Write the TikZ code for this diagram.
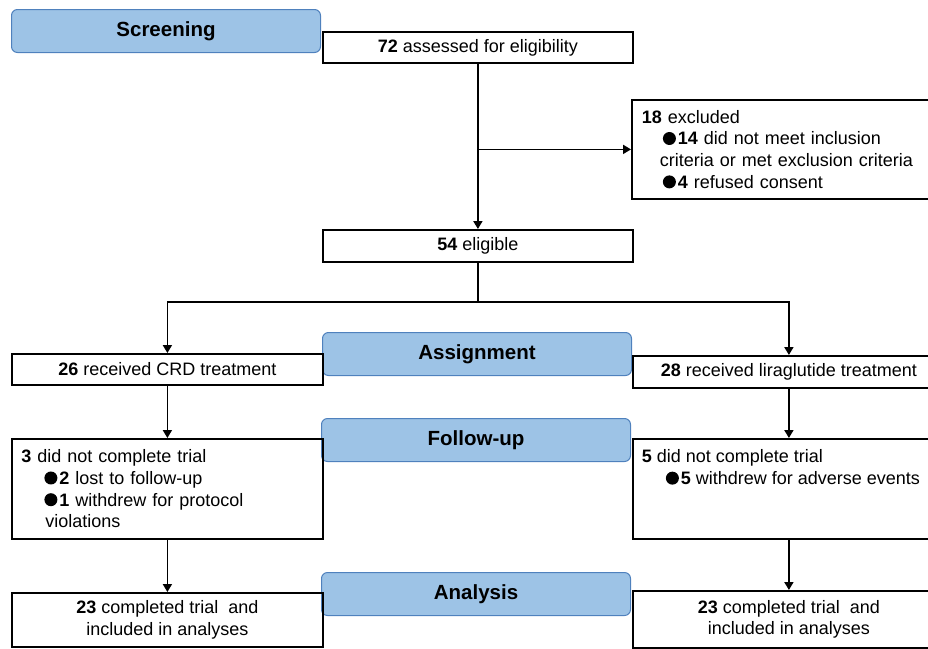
\documentclass[tikz,border=0pt]{standalone}
\usepackage{fontspec}
\setmainfont{Liberation Sans}
\usetikzlibrary{arrows.meta}
\definecolor{stagefill}{HTML}{9DC3E6}
\definecolor{stageedge}{HTML}{4F81BD}
\newcommand{\bulletmark}{\tikz[baseline=-6.5pt]\fill (0,0) circle (6.5pt);\hspace{2pt}}

\begin{document}
\begin{tikzpicture}[x=1pt,y=-1pt,
  stage/.style={draw=stageedge,fill=stagefill,rounded corners=6pt,line width=1pt,
    minimum width=309pt,minimum height=43pt,inner sep=0pt,anchor=north west,
    font=\fontsize{20.5}{24}\selectfont\bfseries},
  box/.style={draw=black,line width=1.8pt,inner sep=0pt,anchor=north west,
    font=\fontsize{18}{21.7}\selectfont},
  link/.style={line width=1.8pt,-{Triangle[length=8pt,width=9pt]}}]
\useasboundingbox (0,0) rectangle (928,648);

\node[stage] (screen) at (11,9) {Screening};
\node[stage] (assign) at (322,332) {Assignment};
\node[stage] (follow) at (321,418) {Follow-up};
\node[stage] (analys) at (321,572) {Analysis};

\node[box,minimum width=310pt,minimum height=31pt] (assess) at (322,31) {\textbf{72} assessed for eligibility};
\node[box,minimum width=314pt,minimum height=99pt,align=left,text width=294pt,inner xsep=10pt] (excl) at (631,99)
  {\textbf{18} excluded\\
   \hspace*{21pt}\bulletmark\textbf{14} did not meet inclusion\\
   \hspace*{18pt}criteria or met exclusion criteria\\
   \hspace*{21pt}\bulletmark\textbf{4} refused consent};
\node[box,minimum width=310pt,minimum height=32pt] (elig) at (322,229) {\textbf{54} eligible};

\node[box,minimum width=311pt,minimum height=31pt] (crd) at (11,353) {\textbf{26} received CRD treatment};
\node[box,minimum width=312pt,minimum height=32pt] (lira) at (632,355) {\textbf{28} received liraglutide treatment};

\node[box,minimum width=311pt,minimum height=100pt,align=left,text width=292pt,inner xsep=9pt] (crdout) at (11,438)
  {\textbf{3} did not complete trial\\
   \hspace*{23pt}\bulletmark\textbf{2} lost to follow-up\\
   \hspace*{23pt}\bulletmark\textbf{1} withdrew for protocol\\
   \hspace*{24pt}violations};
\node[box,minimum width=312pt,minimum height=100pt] (liraout) at (632,438)
  {\parbox[t][78pt][t]{294pt}{\textbf{5} did not complete trial\\
   \hspace*{24pt}\bulletmark\textbf{5} withdrew for adverse events}};

\node[box,minimum width=311pt,minimum height=54pt,align=center] (crdend) at (11,592)
  {\textbf{23} completed trial~ and\\included in analyses};
\node[box,minimum width=312pt,minimum height=57pt,align=center] (liraend) at (632,590)
  {\textbf{23} completed trial~ and\\included in analyses};

\coordinate (split) at (elig.south |- 0,302);
\draw[link] (assess.south) -- (elig.north);
\draw[link] (assess.south |- excl.west) -- (excl.west);
\draw[line width=1.8pt] (elig.south) -- (split);
\draw[link] (split) -| (crd.north);
\draw[link] (split) -| (lira.north);
\draw[link] (crd.south) -- (crdout.north);
\draw[link] (lira.south) -- (liraout.north);
\draw[link] (crdout.south) -- (crdend.north);
\draw[link] (liraout.south) -- (liraend.north);
\end{tikzpicture}
\end{document}
